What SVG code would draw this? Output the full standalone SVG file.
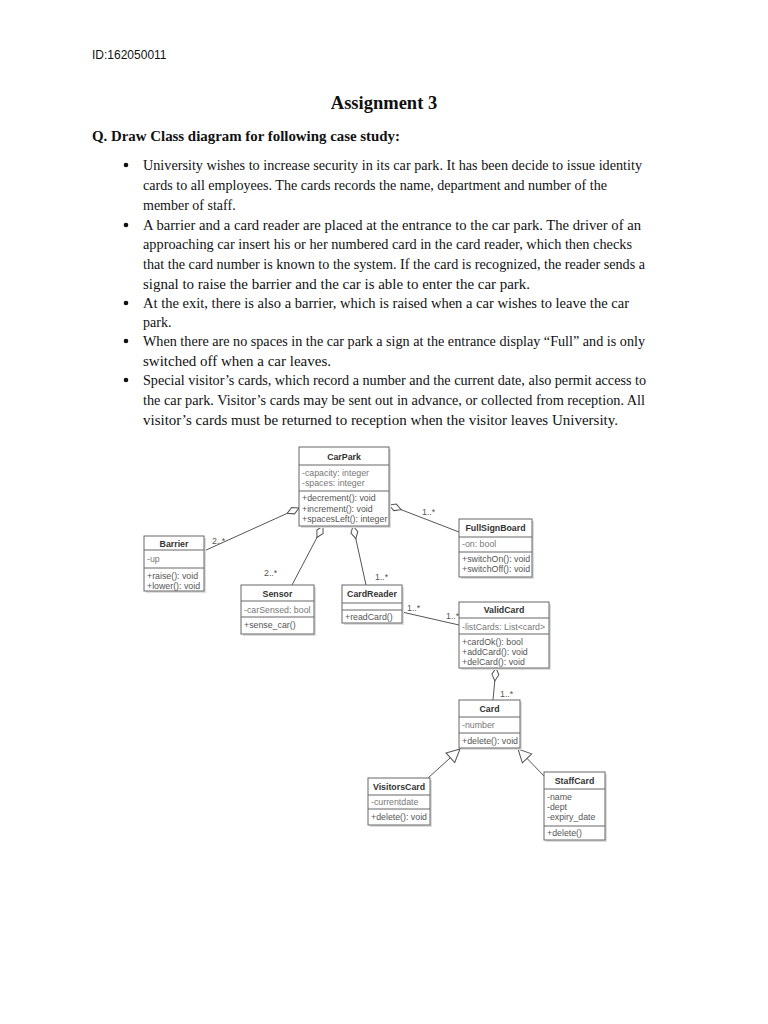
<svg xmlns="http://www.w3.org/2000/svg" width="768" height="1024" viewBox="0 0 768 1024">
<defs>
<style>
.doc{font-family:"Liberation Serif","Times New Roman",serif;font-size:14px;fill:#111}
.hdr{font-family:"Liberation Sans",Arial,sans-serif;font-size:12px;fill:#111}
.box{fill:#fff;stroke:#666;stroke-width:1}
.sh{fill:#ddd}
.div{stroke:#666;stroke-width:1}
.t{font-family:"Liberation Sans",Arial,sans-serif;font-size:8.8px;font-weight:bold;fill:#333;text-anchor:middle}
.a{font-family:"Liberation Sans",Arial,sans-serif;font-size:8.8px;fill:#777}
.m{font-family:"Liberation Sans",Arial,sans-serif;font-size:8.8px;fill:#555}
.lbl{font-family:"Liberation Sans",Arial,sans-serif;font-size:8.8px;fill:#555}
.c{stroke:#555;stroke-width:1;fill:none}
</style>
<marker id="dia" markerUnits="userSpaceOnUse" markerWidth="14" markerHeight="8" refX="0" refY="0" orient="auto" overflow="visible">
<path d="M0,0 L6.5,-3.5 L13,0 L6.5,3.5 Z" fill="#fff" stroke="#555" stroke-width="1"/>
</marker>
<marker id="tri" markerUnits="userSpaceOnUse" markerWidth="14" markerHeight="14" refX="0" refY="0" orient="auto" overflow="visible">
<path d="M0,0 L-13,-6.5 L-13,6.5 Z" fill="#fff" stroke="#555" stroke-width="1"/>
</marker>
</defs>
<rect width="768" height="1024" fill="#fff"/>

<g id="header">
<text class="hdr" x="92" y="59">ID:162050011</text>
<text x="384" y="109" text-anchor="middle" style="font-family:'Liberation Serif','Times New Roman',serif;font-size:18.5px;font-weight:bold;fill:#111">Assignment 3</text>
<text x="92" y="141" textLength="308" lengthAdjust="spacingAndGlyphs" style="font-family:'Liberation Serif','Times New Roman',serif;font-size:15px;font-weight:bold;fill:#111">Q. Draw Class diagram for following case study:</text>
</g>

<g id="text">
<circle cx="126" cy="165" r="2.3" fill="#111"/>
<circle cx="126" cy="225" r="2.3" fill="#111"/>
<circle cx="126" cy="303" r="2.3" fill="#111"/>
<circle cx="126" cy="341" r="2.3" fill="#111"/>
<circle cx="126" cy="380" r="2.3" fill="#111"/>
<text class="doc" x="143" y="170" textLength="499" lengthAdjust="spacingAndGlyphs">University wishes to increase security in its car park. It has been decide to issue identity</text>
<text class="doc" x="143" y="190" textLength="464" lengthAdjust="spacingAndGlyphs">cards to all employees. The cards records the name, department and number of the</text>
<text class="doc" x="143" y="210">member of staff.</text>
<text class="doc" x="143" y="230" textLength="498" lengthAdjust="spacingAndGlyphs">A barrier and a card reader are placed at the entrance to the car park. The driver of an</text>
<text class="doc" x="143" y="249" textLength="489" lengthAdjust="spacingAndGlyphs">approaching car insert his or her numbered card in the card reader, which then checks</text>
<text class="doc" x="143" y="269" textLength="502" lengthAdjust="spacingAndGlyphs">that the card number is known to the system. If the card is recognized, the reader sends a</text>
<text class="doc" x="143" y="289" textLength="387" lengthAdjust="spacingAndGlyphs">signal to raise the barrier and the car is able to enter the car park.</text>
<text class="doc" x="143" y="308" textLength="486" lengthAdjust="spacingAndGlyphs">At the exit, there is also a barrier, which is raised when a car wishes to leave the car</text>
<text class="doc" x="143" y="327">park.</text>
<text class="doc" x="143" y="346" textLength="502" lengthAdjust="spacingAndGlyphs">When there are no spaces in the car park a sign at the entrance display “Full” and is only</text>
<text class="doc" x="143" y="366" style="font-size:15px">switched off when a car leaves.</text>
<text class="doc" x="143" y="385" textLength="503" lengthAdjust="spacingAndGlyphs">Special visitor’s cards, which record a number and the current date, also permit access to</text>
<text class="doc" x="143" y="405" textLength="502" lengthAdjust="spacingAndGlyphs">the car park. Visitor’s cards may be sent out in advance, or collected from reception. All</text>
<text class="doc" x="143" y="425" textLength="475" lengthAdjust="spacingAndGlyphs">visitor’s cards must be returned to reception when the visitor leaves University.</text>
</g>

<g id="connectors">
<path class="c" d="M299,508 L204,551" marker-start="url(#dia)"/>
<path class="c" d="M323,526 L292,585" marker-start="url(#dia)"/>
<path class="c" d="M353,526 L366,585" marker-start="url(#dia)"/>
<path class="c" d="M389,505 L459,532" marker-start="url(#dia)"/>
<path class="c" d="M402,612 L459,625"/>
<path class="c" d="M496,668 L493,700" marker-start="url(#dia)"/>
<path class="c" d="M428,778 L460,749" marker-end="url(#tri)"/>
<path class="c" d="M544,776 L518,749" marker-end="url(#tri)"/>
<text class="lbl" x="212" y="544">2..*</text>
<text class="lbl" x="264" y="576">2..*</text>
<text class="lbl" x="375" y="580">1..*</text>
<text class="lbl" x="422" y="515">1..*</text>
<text class="lbl" x="407" y="611">1..*</text>
<text class="lbl" x="446" y="619">1..*</text>
<text class="lbl" x="500" y="697">1..*</text>
</g>

<g id="CarPark">
<rect class="sh" x="301" y="449" width="90" height="79"/>
<rect class="box" x="299" y="447" width="90" height="79"/>
<line class="div" x1="299" y1="465" x2="389" y2="465"/>
<line class="div" x1="299" y1="491" x2="389" y2="491"/>
<text class="t" x="344" y="460">CarPark</text>
<text class="a" x="302" y="476">-capacity: integer</text>
<text class="a" x="302" y="486">-spaces: integer</text>
<text class="m" x="302" y="501">+decrement(): void</text>
<text class="m" x="302" y="512">+increment(): void</text>
<text class="m" x="302" y="522">+spacesLeft(): integer</text>
</g>

<g id="Barrier">
<rect class="sh" x="146" y="538" width="60" height="55"/>
<rect class="box" x="144" y="536" width="60" height="55"/>
<line class="div" x1="144" y1="550" x2="204" y2="550"/>
<line class="div" x1="144" y1="568" x2="204" y2="568"/>
<text class="t" x="174" y="547">Barrier</text>
<text class="a" x="147" y="562">-up</text>
<text class="m" x="147" y="579">+raise(): void</text>
<text class="m" x="147" y="589">+lower(): void</text>
</g>

<g id="Sensor">
<rect class="sh" x="243" y="587" width="73" height="49"/>
<rect class="box" x="241" y="585" width="73" height="49"/>
<line class="div" x1="241" y1="601" x2="314" y2="601"/>
<line class="div" x1="241" y1="617" x2="314" y2="617"/>
<text class="t" x="277.5" y="597">Sensor</text>
<text class="a" x="244" y="613">-carSensed: bool</text>
<text class="m" x="244" y="628">+sense_car()</text>
</g>

<g id="CardReader">
<rect class="sh" x="344" y="587" width="60" height="38"/>
<rect class="box" x="342" y="585" width="60" height="38"/>
<line class="div" x1="342" y1="603" x2="402" y2="603"/>
<line class="div" x1="342" y1="610" x2="402" y2="610"/>
<text class="t" x="372" y="597">CardReader</text>
<text class="m" x="345" y="620">+readCard()</text>
</g>

<g id="FullSignBoard">
<rect class="sh" x="461" y="521" width="73" height="58"/>
<rect class="box" x="459" y="519" width="73" height="58"/>
<line class="div" x1="459" y1="537" x2="532" y2="537"/>
<line class="div" x1="459" y1="552" x2="532" y2="552"/>
<text class="t" x="495.5" y="531">FullSignBoard</text>
<text class="a" x="462" y="547">-on: bool</text>
<text class="m" x="462" y="562">+switchOn(): void</text>
<text class="m" x="462" y="572">+switchOff(): void</text>
</g>

<g id="ValidCard">
<rect class="sh" x="461" y="604" width="90" height="66"/>
<rect class="box" x="459" y="602" width="90" height="66"/>
<line class="div" x1="459" y1="618" x2="549" y2="618"/>
<line class="div" x1="459" y1="634" x2="549" y2="634"/>
<text class="t" x="504" y="613">ValidCard</text>
<text class="a" x="462" y="630">-listCards: List&lt;card&gt;</text>
<text class="m" x="462" y="645">+cardOk(): bool</text>
<text class="m" x="462" y="655">+addCard(): void</text>
<text class="m" x="462" y="665">+delCard(): void</text>
</g>

<g id="Card">
<rect class="sh" x="461" y="702" width="61" height="48"/>
<rect class="box" x="459" y="700" width="61" height="48"/>
<line class="div" x1="459" y1="717" x2="520" y2="717"/>
<line class="div" x1="459" y1="733" x2="520" y2="733"/>
<text class="t" x="489.5" y="712">Card</text>
<text class="a" x="462" y="728">-number</text>
<text class="m" x="462" y="744">+delete(): void</text>
</g>

<g id="VisitorsCard">
<rect class="sh" x="370" y="780" width="62" height="47"/>
<rect class="box" x="368" y="778" width="62" height="47"/>
<line class="div" x1="368" y1="795" x2="430" y2="795"/>
<line class="div" x1="368" y1="809" x2="430" y2="809"/>
<text class="t" x="399" y="790">VisitorsCard</text>
<text class="a" x="371" y="805">-currentdate</text>
<text class="m" x="371" y="820">+delete(): void</text>
</g>

<g id="StaffCard">
<rect class="sh" x="546" y="774" width="61" height="68"/>
<rect class="box" x="544" y="772" width="61" height="68"/>
<line class="div" x1="544" y1="789" x2="605" y2="789"/>
<line class="div" x1="544" y1="826" x2="605" y2="826"/>
<text class="t" x="574.5" y="784">StaffCard</text>
<text class="m" x="547" y="800">-name</text>
<text class="m" x="547" y="810">-dept</text>
<text class="m" x="547" y="820">-expiry_date</text>
<text class="m" x="547" y="836">+delete()</text>
</g>
</svg>
